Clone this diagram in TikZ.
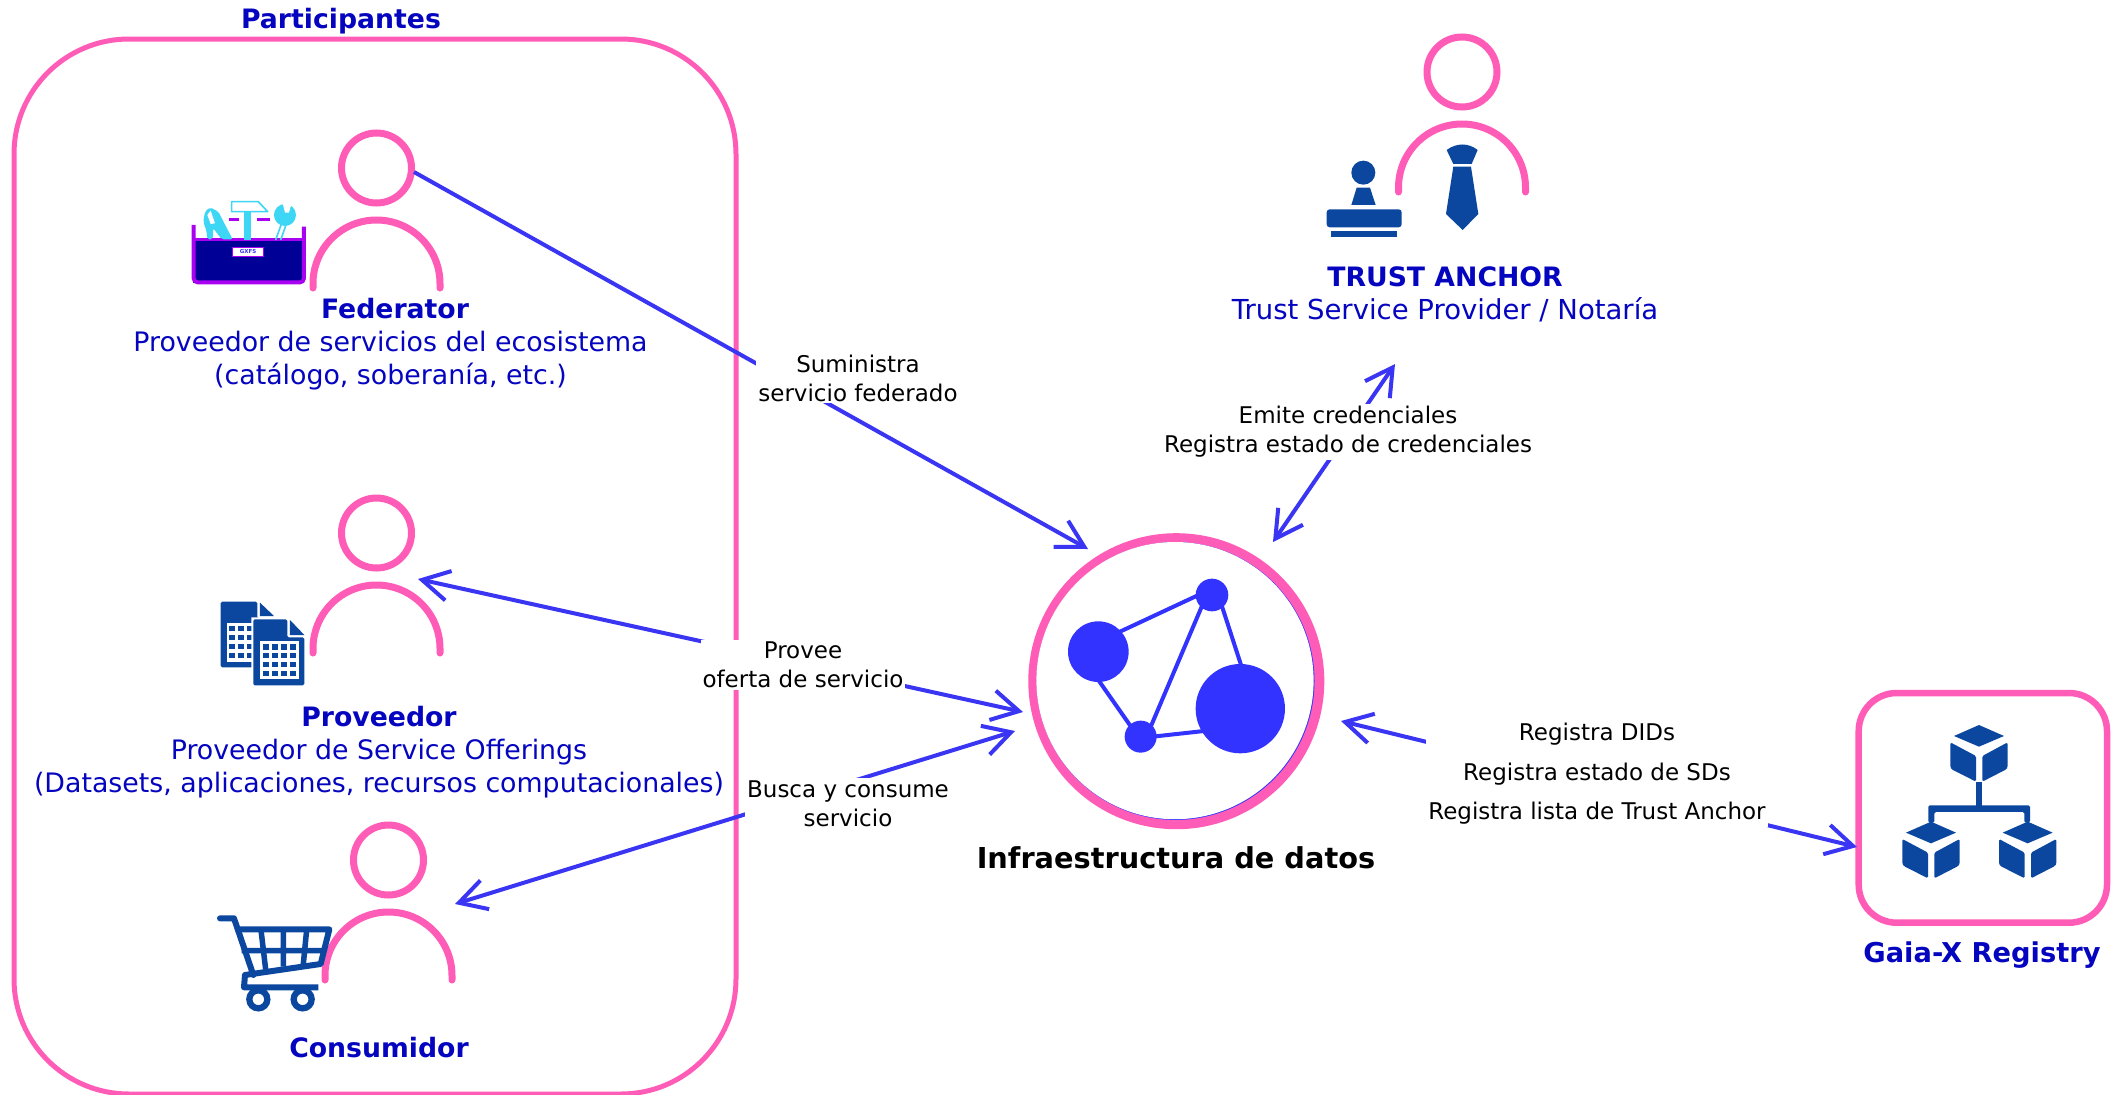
\documentclass[tikz,border=0pt]{standalone}
\usepackage{fontspec}
\setmainfont{DejaVu Sans}
\usetikzlibrary{arrows.meta}
\definecolor{pinkc}{HTML}{FF5CB8}
\definecolor{bluen}{HTML}{3333FF}
\definecolor{bluea}{HTML}{3A35F2}
\definecolor{bluet}{HTML}{0505C0}
\definecolor{darkic}{HTML}{0B479F}
\definecolor{cyanc}{HTML}{3DD6F5}
\definecolor{purp}{HTML}{A800F0}
\definecolor{navyc}{HTML}{000096}
\tikzset{
 person/.pic={
  \draw[pinkc,line width=7pt] (0,0) circle[radius=35pt];
  \draw[pinkc,line width=7pt,line cap=round] (-63.5,120) -- (-63.5,115.5) arc[start angle=180,end angle=0,radius=63.5pt] -- (63.5,120);
 },
 cubeic/.pic={
  \fill[darkic] (342,168)--(417,135)--(492,168)--(417,200)--cycle;
  \fill[darkic,rounded corners=1.5pt] (331,187)--(408,228)--(408,305)--(335,268)--(331,262)--cycle;
  \fill[darkic,rounded corners=1.5pt] (427,228)--(503,187)--(503,262)--(499,268)--(427,305)--cycle;
 },
 conn/.style={bluea,line width=4pt,{Straight Barb[length=27pt,width=30pt,line width=4pt]}-{Straight Barb[length=27pt,width=30pt,line width=4pt]}},
 connend/.style={bluea,line width=4pt,-{Straight Barb[length=27pt,width=30pt,line width=4pt]}},
 lab/.style={fill=white,inner sep=2pt,align=center,text=black,font=\fontsize{23}{29}\selectfont},
 bluetxt/.style={align=center,text=bluet,font=\fontsize{26.8}{33}\selectfont,inner sep=0pt},
 boldtxt/.style={inner sep=0pt,text=bluet,font=\fontsize{26.7}{30}\selectfont\bfseries},
 zoomed/.style={x=0.3333pt,y=-0.3333pt},
}
\begin{document}
\begin{tikzpicture}[x=1pt,y=-1pt]
\useasboundingbox (0,0) rectangle (2113,1095);
\fill[white] (0,0) rectangle (2113,1095);
% frames
\draw[pinkc,line width=5pt,rounded corners=115pt] (14,39) rectangle (736,1094);
\draw[pinkc,line width=6.5pt,rounded corners=38pt] (1858.7,693) rectangle (2107,922.7);
% persons
\pic (fed) at (376.5,168) {person};
\pic (prov) at (376.5,533) {person};
\pic (cons) at (388.5,860) {person};
\pic (trust) at (1462,72) {person};
% toolbox
\begin{scope}[shift={(150,100)},zoomed]
 \fill[navyc] (130,420) rectangle (462,548);
 \draw[purp,line width=4pt,line join=round,rounded corners=4pt] (131,375)--(131,547)--(462,547)--(462,380);
 \draw[purp,line width=3pt] (131,420)--(462,420);
 \draw[purp,line width=3.5pt] (238,358)--(268,358) (320,358)--(360,358);
 \fill[white] (245,440) rectangle (343,472);
 \draw[purp,line width=1.5pt] (247,442) rectangle (341,470);
 \node[inner sep=0pt,text=bluea,font=\fontsize{5.5}{6}\selectfont\bfseries] (gxfs) at (294,456) {GXFS};
 \fill[cyanc] (283,336) rectangle (303,420);
 \draw[cyanc,line width=1.6pt,line join=round] (245,305)--(325,305)--(353,335)--(245,335)--cycle;
 \fill[cyanc,rounded corners=2pt] (160,365)--(165,335)--(180,322)--(205,335)--(248,418)--(215,418)--(190,385)--(188,418)--(172,418)--(170,395)--cycle;
 \fill[white] (172,345)--(182,332)--(195,370)--(182,372)--cycle;
 \fill[cyanc] (405,345) circle[radius=33];
 \fill[white] (398,310)--(425,310)--(417,338)--(405,338)--cycle;
 \draw[cyanc,line width=1.6pt] (395,370)--(377,420) (408,375)--(392,420);
\end{scope}
% documents
\begin{scope}[shift={(200,580)},zoomed]
 \fill[darkic,rounded corners=1.5pt] (62,65)--(172,65)--(172,115)--(222,115)--(222,262)--(62,262)--cycle;
 \fill[darkic] (180,68)--(222,108)--(180,108)--cycle;
 \fill[white] (80,128) rectangle (165,245);
 \foreach \cx in {88,115,142} \foreach \cy in {137,164,191,218}
  \fill[darkic] (\cx,\cy) rectangle +(18,17);
 \fill[white] (154,112)--(262,112)--(262,165)--(320,165)--(320,322)--(154,322)--cycle;
 \fill[darkic,rounded corners=1.5pt] (160,118)--(262,118)--(262,172)--(313,172)--(313,316)--(160,316)--cycle;
 \fill[darkic] (270,120)--(313,165)--(270,165)--cycle;
 \fill[white] (180,182) rectangle (298,298);
 \foreach \cx in {188,215,242,270} \foreach \cy in {192,218,245,272}
  \fill[darkic] (\cx,\cy) rectangle +(18,17);
\end{scope}
% cart
\begin{scope}[shift={(200,880)},zoomed]
 \draw[darkic,line width=6pt,line cap=round,line join=round] (60,115)--(102,115)--(160,285);
 \draw[darkic,line width=6pt,line join=round] (110,148)--(388,148)--(362,252)--(135,285)--(132,322)--(355,322);
 \draw[darkic,line width=5.5pt] (183,150)--(197,268) (250,150)--(250,260) (320,150)--(310,252) (125,212)--(372,212);
 \draw[darkic,line width=6.3pt] (175,358) circle[radius=27] (308,358) circle[radius=27];
\end{scope}
% stamp and tie
\begin{scope}[shift={(1300,20)},zoomed]
 \fill[darkic] (190,458) circle[radius=36];
 \fill[darkic] (170,503)--(210,503)--(227,555)--(154,555)--cycle;
 \fill[darkic,rounded corners=3pt] (80,568) rectangle (305,622);
 \fill[darkic] (94,634) rectangle (290,652);
 \fill[darkic] (440,390) .. controls (470,368) and (505,368) .. (533,390) -- (515,432) -- (460,432) -- cycle;
 \fill[darkic] (460,440)--(513,440)--(535,582)--(488,630)--(438,582)--cycle;
\end{scope}
% registry icon
\begin{scope}[shift={(1840,680)},zoomed]
 \pic at (0,0) {cubeic};
 \pic at (-144,290) {cubeic};
 \pic at (146,290) {cubeic};
 \fill[darkic] (408,305) rectangle (427,378);
 \fill[darkic,rounded corners=1.5pt] (265,428)--(265,376)--(570,376)--(570,428)--(553,428)--(553,396)--(283,396)--(283,428)--cycle;
\end{scope}
% infrastructure circle
\coordinate (infra) at (1176.3,681.2);
\fill[pinkc] (infra) circle[radius=148];
\fill[bluen] (1175.6,681) circle[radius=138.9];
\fill[white] (1175,680.6) circle[radius=138.6];
\begin{scope}[shift={(1000,520)},zoomed]
 \coordinate (na) at (295,395);
 \coordinate (nb) at (636,225);
 \coordinate (nc) at (422,650);
 \coordinate (nd) at (721,566);
 \coordinate (ab1) at (300,363); \coordinate (ab2) at (600,223);
 \coordinate (bc1) at (620,225); \coordinate (bc2) at (448,630);
 \coordinate (bd1) at (655,225); \coordinate (bd2) at (728,450);
 \coordinate (ac1) at (295,480); \coordinate (ac2) at (400,630);
 \coordinate (cd1) at (440,652); \coordinate (cd2) at (640,630);
 \draw[bluen,line width=4pt] (ab1)--(ab2) (bc1)--(bc2) (bd1)--(bd2) (ac1)--(ac2) (cd1)--(cd2);
 \fill[bluen] (na) circle[radius=91] (nb) circle[radius=49] (nc) circle[radius=48] (nd) circle[radius=134];
\end{scope}
% connector ends
\coordinate (fedport) at (414,172);
\coordinate (infraA) at (1088,549);
\coordinate (provport) at (418,579);
\coordinate (infraB) at (1023,712);
\coordinate (consport) at (455,904);
\coordinate (infraC) at (1015,731);
\coordinate (trustport) at (1395,364);
\coordinate (infraD) at (1273,542);
\coordinate (infraE) at (1341,721);
\coordinate (regport) at (1857,847);
\draw[connend] (fedport)--(infraA);
\draw[conn] (provport)--(infraB);
\draw[conn] (consport)--(infraC);
\draw[conn] (trustport)--(infraD);
\draw[conn] (infraE)--(regport);
% connector labels
\node[lab] (l1) at (858,378) {Suministra\\servicio federado};
\node[lab] (l2) at (803,665) {Provee\\oferta de servicio};
\node[lab] (l3) at (848,803.5) {Busca y consume\\servicio};
\node[lab] (l4) at (1348,432) {Emite credenciales\\Registra estado de credenciales};
\node[lab,font=\fontsize{23}{39.5}\selectfont] (l5) at (1597,774) {Registra DIDs\\Registra estado de SDs\\Registra lista de Trust Anchor};
% texts
\node[boldtxt] (t1) at (341,21.5) {Participantes};
\node[boldtxt] (t2) at (395,309) {Federator};
\node[bluetxt] (t3) at (390.5,360.5) {Proveedor de servicios del ecosistema\\(catálogo, soberanía, etc.)};
\node[boldtxt] (t4) at (379,717) {Proveedor};
\node[bluetxt] (t5) at (379,768.5) {Proveedor de Service Offerings\\(Datasets, aplicaciones, recursos computacionales)};
\node[boldtxt] (t6) at (379,1048) {Consumidor};
\node[boldtxt] (t7) at (1445,277) {TRUST ANCHOR};
\node[bluetxt,font=\fontsize{27.5}{33}\selectfont] (t8) at (1445,310) {Trust Service Provider / Notaría};
\node[boldtxt,text=black,font=\fontsize{28.8}{32}\selectfont\bfseries] (t9) at (1176,858) {Infraestructura de datos};
\node[boldtxt,font=\fontsize{27.3}{30}\selectfont\bfseries] (t10) at (1982,955) {Gaia-X Registry};
\end{tikzpicture}
\end{document}
